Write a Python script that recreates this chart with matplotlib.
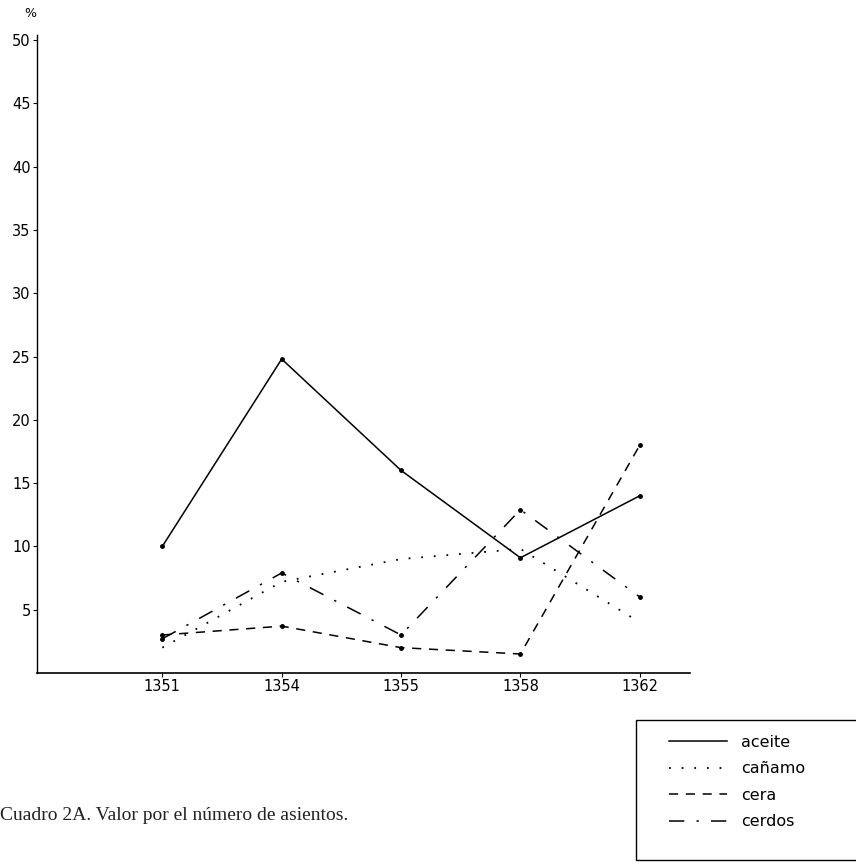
import matplotlib
matplotlib.use("Agg")
import matplotlib.pyplot as plt
from matplotlib.patches import Rectangle

# Data (percent per year)
years = ["1351", "1354", "1355", "1358", "1362"]
aceite = [10.0, 24.8, 16.0, 9.1, 14.0]
canamo = [2.0, 7.2, 9.0, 9.8, 4.0]
cera = [3.0, 3.7, 2.0, 1.5, 18.0]
cerdos = [2.7, 7.9, 3.0, 12.9, 6.0]
y_ticks = [5, 10, 15, 20, 25, 30, 35, 40, 45, 50]

fig = plt.figure(figsize=(8.56, 8.66), dpi=100)
ax = fig.add_axes([0.0432, 0.2229, 0.7628, 0.7367])

x = list(range(len(years)))

# Lines (legend handles without markers)
ax.plot(x, aceite, color="black", linewidth=1.1, linestyle="-", label="aceite")
ax.plot(x, canamo, color="black", linewidth=1.3, linestyle=(0, (1, 6)), label="cañamo")
ax.plot(x, cera, color="black", linewidth=1.1, linestyle=(0, (6, 5)), label="cera")
ax.plot(x, cerdos, color="black", linewidth=1.1, linestyle=(0, (10, 8, 1.5, 8)), label="cerdos")

# Small dots at the data points
for series in (aceite, cera, cerdos):
    ax.plot(x, series, linestyle="none", marker="o", markersize=2.5, color="black")

ax.set_xlim(-1.05, 4.42)
ax.set_ylim(0, 50.4)
ax.set_xticks(x)
ax.set_xticklabels(years)
ax.set_yticks(y_ticks)

for side in ("top", "right"):
    ax.spines[side].set_visible(False)
ax.spines["left"].set_linewidth(1.0)
ax.spines["bottom"].set_linewidth(1.2)
ax.tick_params(axis="both", labelsize=10.5, length=3, width=0.8, direction="out", pad=1.5)

fig.text(0.035, 0.984, "%", fontsize=9, ha="center", va="center")

# Legend box in the lower right corner
fig.patches.append(Rectangle((0.743, 0.007), 0.26, 0.162, transform=fig.transFigure,
                             fill=False, edgecolor="black", linewidth=1.0))
leg = fig.legend(loc="upper left", bbox_to_anchor=(0.765, 0.168), frameon=False,
                 fontsize=11.5, handlelength=3.6, handletextpad=0.9, labelspacing=0.72)

fig.text(0.0, 0.058, "Cuadro 2A. Valor por el número de asientos.", fontsize=14,
         family="Liberation Serif", ha="left", va="center", color="#222222")

fig.savefig("out.png", dpi=100)
